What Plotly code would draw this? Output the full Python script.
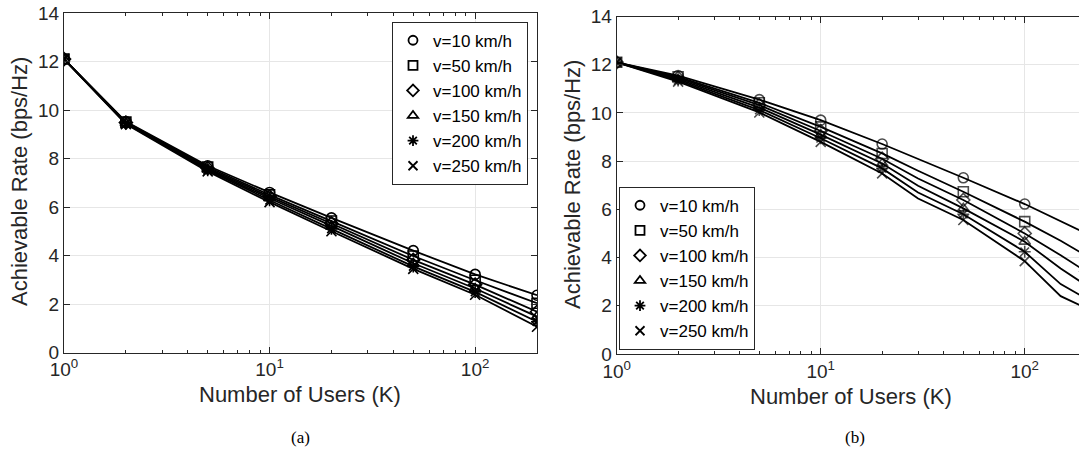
import plotly.graph_objects as go

# ---------------- data ----------------
speeds = ["v=10 km/h", "v=50 km/h", "v=100 km/h", "v=150 km/h", "v=200 km/h", "v=250 km/h"]
symbols = ["circle-open", "square-open", "diamond-open", "triangle-up-open", "asterisk-open", "x-thin-open"]

# panel (a)
K_a = [1, 2, 5, 10, 20, 50, 100, 200]
rate_a_10 = [12.1, 9.52, 7.70, 6.60, 5.55, 4.20, 3.22, 2.36]
rate_a_50 = [12.1, 9.50, 7.65, 6.50, 5.42, 3.98, 2.98, 2.03]
rate_a_100 = [12.1, 9.48, 7.60, 6.43, 5.32, 3.82, 2.80, 1.68]
rate_a_150 = [12.1, 9.46, 7.56, 6.36, 5.22, 3.68, 2.64, 1.48]
rate_a_200 = [12.1, 9.44, 7.52, 6.28, 5.10, 3.55, 2.50, 1.27]
rate_a_250 = [12.1, 9.42, 7.47, 6.20, 5.00, 3.45, 2.38, 1.06]

# panel (b)
K_b = [1, 2, 5, 10, 20, 30, 50, 100, 150, 200]
marked_b = [1, 2, 5, 10, 20, 50, 100, 200]
rate_b_10 = [12.1, 11.55, 10.55, 9.70, 8.71, 8.10, 7.31, 6.22, 5.50, 5.00]
rate_b_50 = [12.1, 11.50, 10.42, 9.42, 8.32, 7.60, 6.73, 5.49, 4.70, 4.08]
rate_b_100 = [12.1, 11.45, 10.32, 9.25, 8.10, 7.28, 6.39, 5.00, 4.10, 3.42]
rate_b_150 = [12.1, 11.40, 10.22, 9.10, 7.90, 6.98, 6.04, 4.66, 3.55, 2.85]
rate_b_200 = [12.1, 11.35, 10.12, 8.95, 7.70, 6.70, 5.80, 4.24, 2.90, 2.30]
rate_b_250 = [12.1, 11.30, 10.02, 8.80, 7.49, 6.45, 5.56, 3.85, 2.40, 1.90]

rates_a = [rate_a_10, rate_a_50, rate_a_100, rate_a_150, rate_a_200, rate_a_250]
rates_b = [rate_b_10, rate_b_50, rate_b_100, rate_b_150, rate_b_200, rate_b_250]

xtick_vals = [1, 10, 100]
xtick_text = ["10<sup>0</sup>", "10<sup>1</sup>", "10<sup>2</sup>"]
minor_vals = [2, 3, 4, 5, 6, 7, 8, 9, 20, 30, 40, 50, 60, 70, 80, 90, 200]

x_title = "Number of Users (K)"
y_title = "Achievable Rate (bps/Hz)"

# ---------------- figure ----------------
fig = go.Figure()
axis_col = "#262626"
grid_col = "#e6e6e6"
FONT = "Liberation Sans, Arial, Helvetica, sans-serif"
SERIF = "Liberation Serif, Times New Roman, serif"

for i in range(6):
    fig.add_trace(go.Scatter(
        x=K_a, y=rates_a[i], mode="lines+markers", xaxis="x", yaxis="y",
        line=dict(color="black", width=1.8),
        marker=dict(symbol=symbols[i], size=10, color="black", line=dict(width=1.6, color="black")),
        showlegend=False, hoverinfo="skip"))
for i in range(6):
    sizes = [10 if k in marked_b else 0 for k in K_b]
    fig.add_trace(go.Scatter(
        x=K_b, y=rates_b[i], mode="lines+markers", xaxis="x2", yaxis="y2",
        line=dict(color="black", width=1.8),
        marker=dict(symbol=symbols[i], size=sizes, color="black", line=dict(width=1.6, color="black")),
        showlegend=False, hoverinfo="skip"))

# legend-only entries
for i in range(6):
    fig.add_trace(go.Scatter(
        x=[None], y=[None], mode="markers", xaxis="x", yaxis="y",
        marker=dict(symbol=symbols[i], size=9, color="black", line=dict(width=1.8, color="black")),
        name=speeds[i], legend="legend"))
for i in range(6):
    fig.add_trace(go.Scatter(
        x=[None], y=[None], mode="markers", xaxis="x2", yaxis="y2",
        marker=dict(symbol=symbols[i], size=9, color="black", line=dict(width=1.8, color="black")),
        name=speeds[i], legend="legend2"))

def xaxis_style(domain, rng, anchor):
    return dict(
        type="log", domain=domain, range=rng, anchor=anchor, automargin=False,
        tickvals=xtick_vals, ticktext=xtick_text,
        ticks="inside", ticklen=6, tickcolor=axis_col,
        minor=dict(tickvals=minor_vals, ticks="inside", ticklen=3, tickcolor=axis_col, showgrid=False),
        showline=True, linecolor=axis_col, linewidth=1, mirror="allticks",
        showgrid=True, gridcolor=grid_col, gridwidth=1,
        tickfont=dict(family=FONT, size=19, color=axis_col),
        zeroline=False)

def yaxis_style(domain, anchor, mirror):
    return dict(
        domain=domain, range=[0, 14], dtick=2, anchor=anchor, automargin=False,
        ticks="inside", ticklen=6, tickcolor=axis_col,
        showline=True, linecolor=axis_col, linewidth=1, mirror=mirror,
        showgrid=True, gridcolor=grid_col, gridwidth=1,
        tickfont=dict(family=FONT, size=19, color=axis_col),
        zeroline=False)

def ann(text, x, y, size, family=FONT, angle=0, color=axis_col):
    return dict(text=text, x=x / 1079, y=1 - y / 454, xref="paper", yref="paper",
                xanchor="center", yanchor="middle", textangle=angle,
                showarrow=False, font=dict(family=family, size=size, color=color))

fig.update_layout(
    width=1079, height=454,
    margin=dict(l=0, r=0, t=0, b=0, autoexpand=False),
    paper_bgcolor="white", plot_bgcolor="white",
    font=dict(family=FONT, color=axis_col),
    xaxis=xaxis_style([64 / 1079, 537 / 1079], [0, 2.301], "y"),
    yaxis=yaxis_style([1 - 352.5 / 454, 1 - 13 / 454], "x", "allticks"),
    xaxis2=xaxis_style([616.7 / 1079, 1.0], [0, 2.266], "y2"),
    yaxis2=yaxis_style([1 - 354 / 454, 1 - 16.5 / 454], "x2", False),
    legend=dict(x=392 / 1079, y=1 - 21.7 / 454, xanchor="left", yanchor="top",
                bgcolor="white", bordercolor=axis_col, borderwidth=1,
                font=dict(family=FONT, size=17, color="black"), itemwidth=30,
                tracegroupgap=0),
    legend2=dict(x=619 / 1079, y=1 - 186.7 / 454, xanchor="left", yanchor="top",
                 bgcolor="white", bordercolor=axis_col, borderwidth=1,
                 font=dict(family=FONT, size=17, color="black"), itemwidth=30,
                 tracegroupgap=0),
    annotations=[
        ann(x_title, 300, 394, 22),
        ann(x_title, 851, 396, 22),
        ann(y_title, 19, 182, 22, angle=-90),
        ann(y_title, 573, 185, 22, angle=-90),
        ann("(a)", 300, 437, 17, family=SERIF, color="black"),
        ann("(b)", 855, 437, 17, family=SERIF, color="black"),
    ],
)

fig.write_html(
    "out.html",
    config={"displayModeBar": False, "staticPlot": True},
    post_script="document.body.style.margin='0';document.body.style.padding='0';"
                "document.body.style.overflow='hidden';",
)
